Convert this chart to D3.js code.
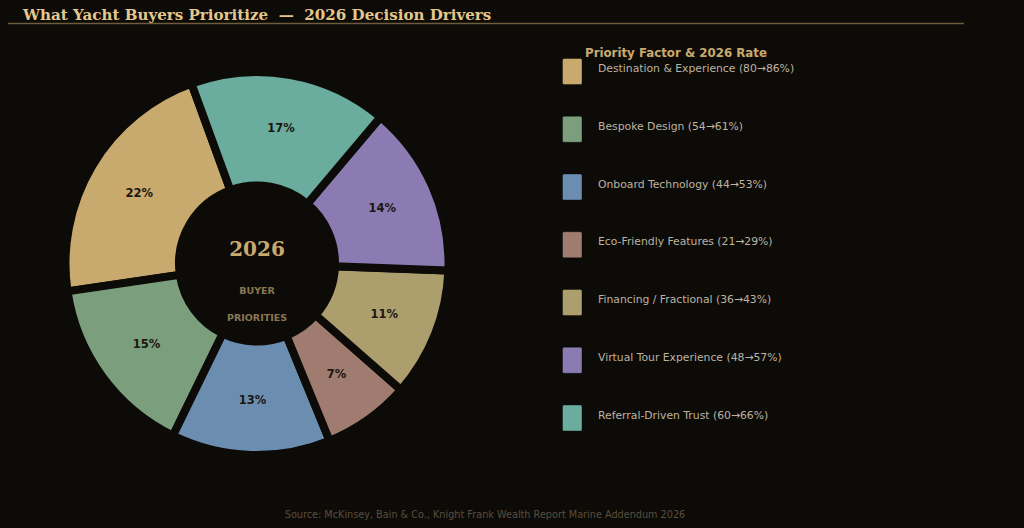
<!DOCTYPE html>
<html><head><meta charset="utf-8">
<script src="https://cdn.jsdelivr.net/npm/d3@7/dist/d3.min.js"></script>
<style>
html,body{margin:0;padding:0;background:#0d0b08;}
svg{display:block;}
text{white-space:pre;}
</style></head>
<body>
<svg id="c" width="1024" height="528"></svg>
<script>
const categories = ["Destination & Experience","Bespoke Design","Onboard Technology","Eco-Friendly Features","Financing / Fractional","Virtual Tour Experience","Referral-Driven Trust"];
const rates2025 = [80,54,44,21,36,48,60];
const rates2026 = [86,61,53,29,43,57,66];
const colors = ["#c9aa6e","#7b9e7d","#6b8daf","#a07b6f","#ad9e6e","#8c7bb2","#6aac9d"];

const svg = d3.select("#c");
const bg = "#0d0b08";
svg.append("rect").attr("width",1024).attr("height",528).attr("fill",bg);

svg.append("text").attr("x",23).attr("y",20)
  .attr("font-family","DejaVu Serif").attr("font-weight","bold").attr("font-size",15.1)
  .attr("fill","#e3c78d").text("What Yacht Buyers Prioritize  \u2014  2026 Decision Drivers");
svg.append("line").attr("x1",8).attr("x2",964).attr("y1",23.5).attr("y2",23.5)
  .attr("stroke","#6e5c3c").attr("stroke-width",1.5);

const cx = 257, cy = 263.5;
const data = categories.map((c,i)=>({name:c, v:rates2026[i], c:colors[i]}));
const total = d3.sum(rates2026);
const start = -20*Math.PI/180;
const pie = d3.pie().value(d=>d.v).sort(null).startAngle(start).endAngle(start-2*Math.PI);
const arc = d3.arc().innerRadius(78).outerRadius(191.5);
const labelArc = d3.arc().innerRadius(137).outerRadius(137);
const g = svg.append("g").attr("transform",`translate(${cx},${cy})`);
const arcs = pie(data);
g.selectAll("path").data(arcs).join("path")
  .attr("d",arc).attr("fill",d=>d.data.c).attr("stroke",bg).attr("stroke-width",8).attr("stroke-linejoin","miter");
g.selectAll("text.pct").data(arcs).join("text").attr("class","pct")
  .attr("transform",d=>`translate(${labelArc.centroid(d)})`)
  .attr("text-anchor","middle").attr("dy","0.3em")
  .attr("font-family","DejaVu Sans").attr("font-weight","bold").attr("font-size",11.5)
  .attr("fill","#1a1610").text(d=>Math.round(d.data.v/total*100)+"%");

g.append("text").attr("y",-14.5).attr("text-anchor","middle").attr("dy","0.35em")
  .attr("font-family","DejaVu Serif").attr("font-weight","bold").attr("font-size",20)
  .attr("fill","#c9aa6e").text("2026");
g.append("text").attr("y",27.5).attr("text-anchor","middle").attr("dy","0.35em")
  .attr("font-family","DejaVu Sans").attr("font-weight","bold").attr("font-size",9.5)
  .attr("fill","#8a7652").text("BUYER");
g.append("text").attr("y",54.5).attr("text-anchor","middle").attr("dy","0.35em")
  .attr("font-family","DejaVu Sans").attr("font-weight","bold").attr("font-size",9.5)
  .attr("fill","#8a7652").text("PRIORITIES");

svg.append("text").attr("x",585).attr("y",57)
  .attr("font-family","DejaVu Sans").attr("font-weight","bold").attr("font-size",11.8)
  .attr("fill","#c9aa6e").text("Priority Factor & 2026 Rate");
const y = d3.scalePoint().domain(categories).range([71.5,418]);
const leg = svg.selectAll("g.leg").data(data).join("g").attr("class","leg")
  .attr("transform",d=>`translate(0,${y(d.name)})`);
leg.append("rect").attr("x",562.5).attr("y",-13).attr("width",19.5).attr("height",26).attr("rx",1.5)
  .attr("fill",d=>d.c).attr("stroke","rgba(0,0,0,0.35)").attr("stroke-width",1);
leg.append("text").attr("x",598).attr("y",0.5)
  .attr("font-family","DejaVu Sans").attr("font-size",10.8)
  .attr("fill","#bdb3a0").text((d,i)=>`${d.name} (${rates2025[i]}\u2192${rates2026[i]}%)`);

svg.append("text").attr("x",485).attr("y",518).attr("text-anchor","middle")
  .attr("font-family","DejaVu Sans").attr("font-size",9.7)
  .attr("fill","#5a4e3c").text("Source: McKinsey, Bain & Co., Knight Frank Wealth Report Marine Addendum 2026");
</script>
</body></html>
